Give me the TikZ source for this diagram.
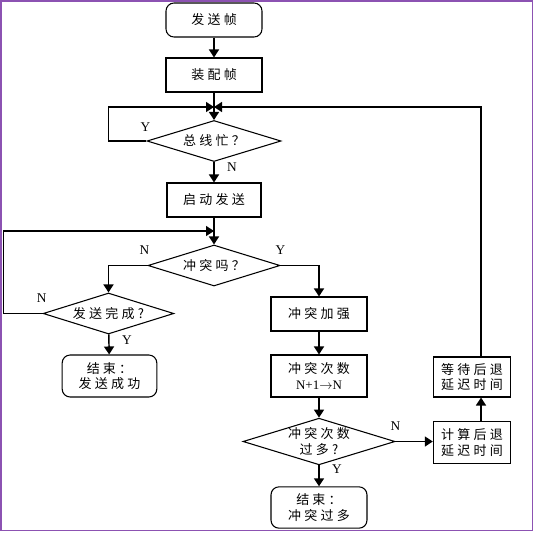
\documentclass[tikz,border=0pt]{standalone}
\usepackage{fontspec}
\setmainfont{Liberation Serif}
\newfontfamily\cjk[LetterSpace=25]{Noto Sans CJK SC}
\usetikzlibrary{shapes.geometric, arrows.meta, positioning}
\definecolor{framepurple}{RGB}{140,82,178}

\begin{document}
\begin{tikzpicture}[
    x=0.75pt, y=-0.75pt,
    font=\fontsize{9.75}{11.5}\selectfont\cjk,
    >={Triangle[length=6pt,width=7.5pt]},
    block/.style={draw=black, line width=0.8pt, minimum width=72pt, minimum height=25.5pt, align=center, inner sep=1pt},
    term/.style={block, rounded corners=6pt},
    decision/.style={draw=black, line width=0.8pt, diamond, aspect=3.2, inner sep=0pt, align=center},
    arrow/.style={->, line width=1.1pt},
    lbl/.style={font=\fontsize{10}{12}\selectfont\rmfamily, inner sep=0pt},
    frame/.style={draw=framepurple, line width=1.3pt}
  ]
    \useasboundingbox (0,0) rectangle (534,532);
    \draw[frame] (0.9,0.9) rectangle (532.6,530.6);

    % main column
    \node[term]  (start) at (214,20) {发送帧};
    \node[block] (asm)   at (214,75) {装配帧};
    \node[decision, minimum width=100.5pt, minimum height=30.75pt] (busy) at (214,141) {总线忙？};
    \node[block, minimum width=70.5pt] (send) at (214,200) {启动发送};
    \node[decision, minimum width=99pt, minimum height=30.75pt] (coll) at (214,265.5) {冲突吗？};

    % left branch
    \node[decision, minimum width=98pt, minimum height=30.75pt] (done) at (108.5,313.5) {发送完成?};
    \node[term, minimum width=71pt, minimum height=31.5pt] (endok) at (109.5,376) {结束：\\发送成功};

    % right branch
    \node[block] (boost) at (319,314) {冲突加强};
    \node[block, minimum height=31.5pt] (count) at (319,376) {冲突次数\\{\rmfamily N+1$\rightarrow$N}};
    \node[decision, minimum width=114pt, minimum height=35pt,
          label={[align=center]center:冲突次数\\过多?}] (many) at (319,441.5) {};
    \node[term, minimum height=31pt] (endbad) at (319,507.5) {结束：\\冲突过多};
    \node[block, minimum width=58pt, minimum height=31pt] (calc) at (472,442.5) {计算后退\\延迟时间};
    \node[block, minimum width=58pt, minimum height=30pt] (wait) at (472,377) {等待后退\\延迟时间};

    \coordinate (m1) at (214,107);
    \coordinate (m2) at (214,231);

    \draw[arrow] (start) -- (asm);
    \draw[arrow] (asm) -- (busy);
    \draw[arrow] (busy.west) -- ++(-38,0) |- (m1);
    \draw[arrow] (busy) -- (send);
    \draw[arrow] (send) -- (coll);
    \draw[arrow] (coll.west) -| (done.north);
    \draw[arrow] (coll.east) -| (boost.north);
    \draw[arrow] (done.west) -- ++(-39,0) |- (m2);
    \draw[arrow] (done) -- (endok);
    \draw[arrow] (boost) -- (count);
    \draw[arrow] (count) -- (many);
    \draw[arrow] (many) -- (endbad);
    \draw[arrow] (many.east) -- (many.east -| calc.west);
    \draw[arrow] ([xshift=6.75pt]calc.north) -- ([xshift=6.75pt]wait.south);
    \draw[arrow] ([xshift=6.75pt]wait.north) |- (m1);

    % Y / N labels
    \node[lbl] (busyY) at ([shift={(-1,-14)}]busy.west) {Y};
    \node[lbl] (busyN) at ([shift={(18,5)}]busy.south) {N};
    \node[lbl] (collN) at ([shift={(-3,-15.5)}]coll.west) {N};
    \node[lbl] (collY) at ([shift={(0,-15.5)}]coll.east) {Y};
    \node[lbl] (doneN) at ([shift={(-1,-15.5)}]done.west) {N};
    \node[lbl] (doneY) at ([shift={(18.5,6)}]done.south) {Y};
    \node[lbl] (manyN) at ([shift={(0,-15.5)}]many.east) {N};
    \node[lbl] (manyY) at ([shift={(18,4)}]many.south) {Y};
  \end{tikzpicture}
\end{document}
